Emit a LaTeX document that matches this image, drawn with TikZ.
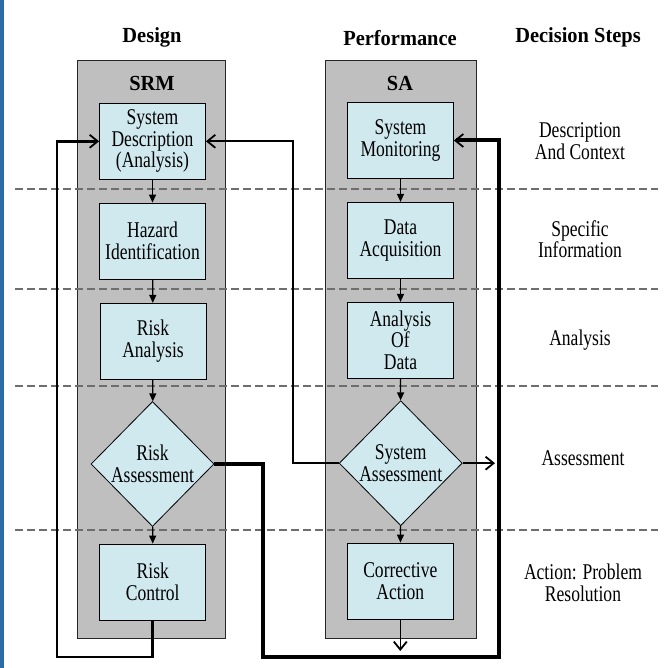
\documentclass[tikz,border=0pt]{standalone}
\usepackage{fontspec}
\setmainfont{Liberation Serif}
\newfontfamily\bodyfont{Liberation Serif}[FakeStretch=0.78]
\newfontfamily\headfont{Liberation Serif}[FakeStretch=0.95]
\usetikzlibrary{shapes.geometric,arrows.meta}
\definecolor{boxfill}{HTML}{CFE9EF}
\definecolor{panelgray}{HTML}{BFBFBF}
\definecolor{dashc}{HTML}{6E6E6E}
\definecolor{barblue}{HTML}{2A6CA6}
\begin{document}
\begin{tikzpicture}[x=1pt,y=-1pt,
  bodytext/.style={font=\bodyfont\fontsize{22.5}{21.5}\selectfont},
  box/.style={bodytext, draw=black, line width=0.8pt, fill=boxfill, minimum width=106pt, minimum height=76pt, inner sep=0pt, align=center},
  dia/.style={bodytext, diamond, draw=black, line width=0.8pt, fill=boxfill, minimum width=123pt, minimum height=125pt, inner sep=0pt, align=center},
  panelbox/.style={draw=black!85, line width=0.8pt, fill=panelgray, anchor=north west, inner sep=0pt},
  sepline/.style={draw=dashc, dash pattern=on 8pt off 4pt, line width=1.6pt},
  titletext/.style={font=\headfont\fontsize{21.5}{24}\selectfont\bfseries},
  steplabel/.style={bodytext, align=center},
  flow/.style={line width=1.3pt, -{Triangle[length=8pt,width=7pt]}},
  barb/.style={-{Straight Barb[length=8pt,width=13pt,line width=1.8pt]}}
]
\useasboundingbox (0,0) rectangle (663,668);
\fill[white] (0,0) rectangle (663,668);
\fill[barblue] (0,0) rectangle (3.5,668);

% panels
\node[panelbox, minimum width=148pt, minimum height=578pt] (pl) at (77,60) {};
\node[panelbox, minimum width=151pt, minimum height=578pt] (pr) at (325,60) {};

% headers
\node[titletext] (tdesign) at (152,37) {Design};
\node[titletext] (tperf) at (400,38) {Performance};
\node[titletext] (tsteps) at (578,37) {Decision Steps};
\node[titletext] (tsrm) at (152,83) {SRM};
\node[titletext] (tsa) at (400,83) {SA};

% separators
\draw[sepline] (15,189) -- (658,189);
\draw[sepline] (15,289) -- (658,289);
\draw[sepline] (15,386) -- (658,386);
\draw[sepline] (15,530) -- (658,530);

% SRM column
\node[box] (sd) at (152.5,141.3) {System\\Description\\(Analysis)};
\node[box] (hi) at (152.5,241) {Hazard\\Identification};
\node[box] (ran) at (153,341.3) {Risk\\Analysis};
\node[dia] (ras) at (152.5,464) {Risk\\Assessment};
\node[box] (rc) at (152.8,582) {Risk\\Control};

% SA column
\node[box] (sm) at (400.5,140.5) {System\\Monitoring};
\node[box] (da) at (400.5,240.3) {Data\\Acquisition};
\node[box] (ad) at (400.5,340.3) {Analysis\\Of\\Data};
\node[dia] (sas) at (400.7,463.2) {System\\Assessment};
\node[box] (ca) at (400.3,581) {Corrective\\Action};

% decision steps
\node[steplabel] (dstep1) at (580,141) {Description\\And Context};
\node[steplabel] (dstep2) at (580,239) {Specific\\Information};
\node[steplabel] (dstep3) at (580,340) {Analysis};
\node[steplabel] (dstep4) at (583,458) {Assessment};
\node[steplabel] (dstep5) at (583,583) {Action: Problem\\Resolution};

% flows
\draw[flow] (sd) -- (hi);
\draw[flow] (hi) -- (ran);
\draw[flow] (ran) -- (ras);
\draw[flow] (ras) -- (rc);
\draw[flow] (sm) -- (da);
\draw[flow] (da) -- (ad);
\draw[flow] (ad) -- (sas);
\draw[flow] (sas) -- (ca);

% loops
\coordinate (lc1) at (152.8,657);
\coordinate (lc2) at (57,657);
\draw[line width=2.8pt, barb] (rc.south) -- (lc1) -- (lc2) |- (sd.west);

\coordinate (tk1) at (263,657);
\coordinate (tk2) at (499,657);
\draw[line width=4pt, barb] (ras.east) -| (tk1) -- (tk2) |- (sm.east);

\coordinate (mx) at (293,0);
\draw[line width=1.8pt, barb] (sas.west) -| (mx |- sd.east) -- (sd.east);

\coordinate (saout) at (495,463.2);
\draw[line width=1.8pt, barb] (sas.east) -- (saout);

\coordinate (caout) at (400.3,651);
\draw[line width=1.5pt, barb] (ca.south) -- (caout);
\end{tikzpicture}
\end{document}
